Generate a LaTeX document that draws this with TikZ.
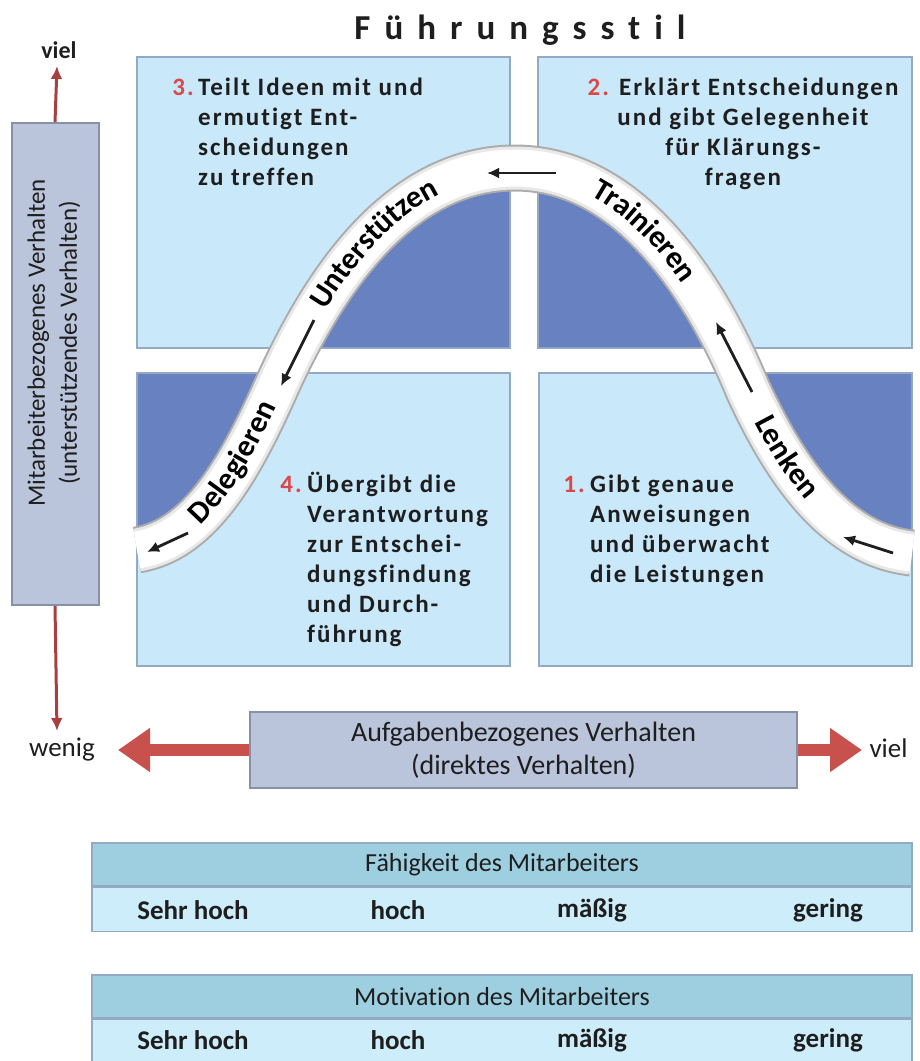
\documentclass[tikz,border=0pt]{standalone}
\usepackage{fontspec}
\setmainfont{Carlito}[Ligatures=NoCommon]
\newfontfamily\titlefam{Carlito}[LetterSpace=40,Ligatures=NoCommon]
\newfontfamily\quadfam{Carlito}[LetterSpace=8,Ligatures=NoCommon]
\newfontfamily\bandfam{Carlito}[LetterSpace=8,Ligatures=NoCommon]
\usetikzlibrary{arrows.meta,decorations.text,positioning}
\definecolor{ink}{HTML}{1E1E1E}
\definecolor{qlight}{HTML}{C9E8FA}
\definecolor{qdark}{HTML}{6881C1}
\definecolor{qedge}{HTML}{93A9C4}
\definecolor{boxfill}{HTML}{BAC4DA}
\definecolor{boxedge}{HTML}{8791A6}
\definecolor{headfill}{HTML}{9ECFE0}
\definecolor{rowfill}{HTML}{CDEDFB}
\definecolor{numred}{HTML}{DA4848}
\definecolor{axred}{HTML}{A8403F}
\definecolor{blockred}{HTML}{C8504D}
\newcommand\bandpath{(137,550) .. controls (200,540) and (240,468) .. (275,390)
 .. controls (310,312) and (385,168) .. (515,168)
 .. controls (640,168) and (715,310) .. (748,390)
 .. controls (785,470) and (835,545) .. (912,553)}
\newcommand\qfont{\quadfam\bfseries\fontsize{25}{30}\selectfont}
\newcommand\bandfont{\bandfam\bfseries\fontsize{31}{31}\selectfont}
\tikzset{quad/.style={draw=qedge,fill=qlight,line width=2pt},
axisbox/.style={draw=boxedge,fill=boxfill,line width=2pt,inner sep=0pt},
qtxt/.style={font=\qfont,text=ink,align=left,inner sep=0pt},
num/.style={font=\qfont,text=numred,inner sep=0pt},
bandlab/.style 2 args={decorate,decoration={text along path,raise=-8pt,
  text={|\bandfont|#1},text align={left indent=#2}}},
flow/.style={-{Latex[length=12pt,width=11pt]},line width=2.8pt,ink},
thinarr/.style={-{Latex[length=13pt,width=12pt]},line width=3pt,axred},
blockarr/.style={-{Triangle[length=32pt,width=42pt]},line width=12pt,blockred},
headbar/.style={draw=qedge,fill=headfill,line width=1.5pt,minimum width=820pt,
  minimum height=43pt,font=\fontsize{26}{26}\selectfont,text=ink},
rowbar/.style={draw=qedge,fill=rowfill,line width=1.5pt,minimum width=820pt,
  minimum height=44pt},
rowlab/.style={font=\bfseries\fontsize{27}{27}\selectfont,text=ink},
sidelab/.style={font=\fontsize{27}{27}\selectfont,text=ink}}
\begin{document}
\begin{tikzpicture}[x=1pt,y=-1pt]
\useasboundingbox (0,0) rectangle (920,1061);
\node[font=\titlefam\bfseries\fontsize{35}{35}\selectfont,text=ink] (title) at (520,30) {Führungsstil};
% quadrants
\draw[quad] (137,57) rectangle (510,348);
\draw[quad] (538,57) rectangle (912,348);
\draw[quad] (137,373) rectangle (510,666);
\draw[quad] (539,373) rectangle (912,666);
\begin{scope}
\clip (138,58) rectangle (509,347) (539,58) rectangle (911,347)
 (138,374) rectangle (509,665) (540,374) rectangle (911,665);
\fill[qdark] \bandpath -- (912,360) -- (137,360) -- cycle;
\end{scope}
% band
\draw[line width=47pt,gray!65] \bandpath;
\draw[line width=43pt,gray!18] \bandpath;
\draw[line width=37pt,white] \bandpath;
\path[bandlab={Delegieren}{66pt}] \bandpath;
\path[bandlab={Unterstützen}{314pt}] \bandpath;
\path[bandlab={Trainieren}{648pt}] \bandpath;
\path[bandlab={Lenken}{938pt}] \bandpath;
\foreach \a/\b in {{(893,553)}/{(843,537)},{(752,392)}/{(716,322)},
 {(556,173)}/{(487,173)},{(314,320)}/{(281,386)},{(188,533)}/{(147,552)}}
 {\draw[flow] \a -- \b;}
% quadrant texts
\node[num,anchor=north east] (n3) at (194,74) {\strut 3.};
\node[qtxt,anchor=north west] (t3) at (198,74) {\strut Teilt Ideen mit und\\ermutigt Ent-\\scheidungen\\zu treffen};
\node[qtxt,align=center,anchor=north] (t2) at (743,74) {\strut{\color{numred}2.} Erklärt Entscheidungen\\und gibt Gelegenheit\\für Klärungs-\\fragen};
\node[num,anchor=north east] (n4) at (302,471) {\strut 4.};
\node[qtxt,anchor=north west] (t4) at (307,471) {\strut Übergibt die\\Verantwortung\\zur Entschei-\\dungsfindung\\und Durch-\\führung};
\node[num,anchor=north east] (n1) at (585,471) {\strut 1.};
\node[qtxt,anchor=north west] (t1) at (590,471) {\strut Gibt genaue\\Anweisungen\\und überwacht\\die Leistungen};
% axes
\node[axisbox,minimum width=87pt,minimum height=482pt] (vbox) at (55,364) {};
\node[rotate=90,align=center,font=\fontsize{25}{32}\selectfont,text=ink] (vlab) at (54,343)
 {Mitarbeiterbezogenes Verhalten\\(unterstützendes Verhalten)};
\coordinate (vtop) at (57,66);
\coordinate (vbot) at (57,731);
\draw[thinarr] (vbox.north) -- (vtop);
\draw[thinarr] (vbox.south) -- (vbot);
\node[sidelab,font=\bfseries\fontsize{24}{24}\selectfont] (viel1) at (59,50) {viel};
\node[sidelab] (wenig) at (62,750) {wenig};
\node[axisbox,minimum width=547pt,minimum height=76pt,align=center,
 font=\fontsize{28}{33}\selectfont,text=ink] (hbox) at (523.5,750)
 {Aufgabenbezogenes Verhalten\\(direktes Verhalten)};
\coordinate (hleft) at (118,750);
\coordinate (hright) at (862,750);
\draw[blockarr] (hbox.west) -- (hleft);
\draw[blockarr] (hbox.east) -- (hright);
\node[sidelab,anchor=west] (viel2) at (866,748) {viel};
% tables
\node[headbar] (fhead) at (502,864.5) {Fähigkeit des Mitarbeiters};
\node[rowbar,below=0pt of fhead] (frow) {};
\node[headbar] (mhead) at (502,996.5) {Motivation des Mitarbeiters};
\node[rowbar,below=0pt of mhead] (mrow) {};
\foreach \lab/\x [count=\i] in {Sehr hoch/193,hoch/398,mäßig/592,gering/828}
 {\node[rowlab] (f\i) at (\x,910) {\lab};
  \node[rowlab] (m\i) at (\x,1040) {\lab};}
\end{tikzpicture}
\end{document}
